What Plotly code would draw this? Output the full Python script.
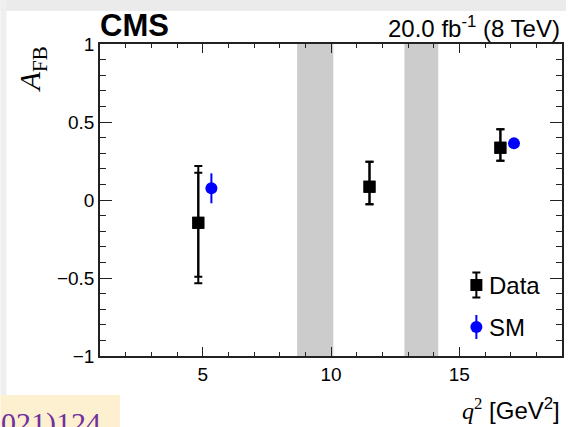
import plotly.graph_objects as go

# ---- data ----
data_x = [4.83, 11.5, 16.6]
data_y = [-0.146, 0.085, 0.335]
data_tot_up = [0.364, 0.16, 0.118]
data_tot_dn = [0.388, 0.113, 0.083]
data_stat_up = [0.321, 0.16, 0.118]
data_stat_dn = [0.346, 0.113, 0.083]

sm_x = [5.34, 17.13]
sm_y = [0.075, 0.363]
sm_err = [0.096, 0.0]

veto_lo = [8.68, 12.86]
veto_hi = [10.09, 14.18]

x_range = [1, 19]
y_range = [-1, 1]

W, H = 568, 427
ML, MR, MT, MB = 100, 4, 44, 71
PW, PH = W - ML - MR, H - MT - MB


def px_x(px):
    return (px - ML) / PW


def px_y(py):
    return (H - MB - py) / PH


fig = go.Figure()

# Data: total uncertainty
fig.add_trace(go.Scatter(
    x=data_x, y=data_y, mode="markers",
    marker=dict(symbol="square", size=12, color="black"),
    error_y=dict(type="data", symmetric=False, array=data_tot_up, arrayminus=data_tot_dn,
                 color="black", thickness=2, width=4),
    showlegend=False, hoverinfo="skip"))
# Data: stat uncertainty
fig.add_trace(go.Scatter(
    x=data_x, y=data_y, mode="markers",
    marker=dict(symbol="square", size=12, color="black"),
    error_y=dict(type="data", symmetric=False, array=data_stat_up, arrayminus=data_stat_dn,
                 color="black", thickness=2, width=4),
    showlegend=False, hoverinfo="skip"))
# SM
fig.add_trace(go.Scatter(
    x=sm_x, y=sm_y, mode="markers",
    marker=dict(symbol="circle", size=12, color="#0000ff"),
    error_y=dict(type="data", array=sm_err, color="#0000ff", thickness=2, width=0),
    showlegend=False, hoverinfo="skip"))

# Legend glyphs on an overlay unit axis
fig.add_trace(go.Scatter(
    x=[px_x(478)], y=[px_y(285)], mode="markers", xaxis="x2", yaxis="y2",
    marker=dict(symbol="square", size=12, color="black"),
    error_y=dict(type="data", array=[12.5 / PH], color="black", thickness=2, width=4),
    showlegend=False, hoverinfo="skip"))
fig.add_trace(go.Scatter(
    x=[px_x(478)], y=[px_y(327)], mode="markers", xaxis="x2", yaxis="y2",
    marker=dict(symbol="circle", size=12, color="#0000ff"),
    error_y=dict(type="data", array=[12 / PH], color="#0000ff", thickness=2, width=0),
    showlegend=False, hoverinfo="skip"))

shapes = []
for lo, hi in zip(veto_lo, veto_hi):
    shapes.append(dict(type="rect", xref="x", yref="y", x0=lo, x1=hi, y0=y_range[0], y1=y_range[1],
                       fillcolor="#cccccc", line=dict(width=0), layer="below"))
# page framing (top and left light gray bands)
shapes.append(dict(type="rect", xref="paper", yref="paper", x0=px_x(0), x1=px_x(W),
                   y0=px_y(11), y1=px_y(0), fillcolor="#ebebeb", line=dict(width=0), layer="below"))
shapes.append(dict(type="rect", xref="paper", yref="paper", x0=px_x(0), x1=px_x(6),
                   y0=px_y(395), y1=px_y(0), fillcolor="#efefef", line=dict(width=0), layer="below"))
# bottom-left citation box
shapes.append(dict(type="rect", xref="paper", yref="paper", x0=px_x(0), x1=px_x(120),
                   y0=px_y(H), y1=px_y(395), fillcolor="#fdf0d0", line=dict(width=0), layer="below"))

annotations = [
    dict(text="<b>CMS</b>", xref="paper", yref="paper", x=px_x(98), y=px_y(45),
         xanchor="left", yanchor="bottom", showarrow=False,
         font=dict(family="Liberation Sans", size=31, color="black")),
    dict(text="20.0 fb<sup>-1</sup> (8 TeV)", xref="paper", yref="paper", x=px_x(564), y=px_y(44),
         xanchor="right", yanchor="bottom", showarrow=False,
         font=dict(family="Liberation Sans", size=24, color="black")),
    dict(text="<i>A</i><sub>FB</sub>", xref="paper", yref="paper", x=px_x(32), y=px_y(44),
         xanchor="center", yanchor="top", textangle=-90, showarrow=False,
         font=dict(family="Liberation Serif", size=30, color="black")),
    dict(text="<span style='font-family:Liberation Serif'><i>q</i><sup>2</sup></span> [GeV<sup>2</sup>]",
         xref="paper", yref="paper", x=px_x(564), y=px_y(426),
         xanchor="right", yanchor="bottom", showarrow=False,
         font=dict(family="Liberation Sans", size=24, color="black")),
    dict(text="Data", xref="paper", yref="paper", x=px_x(489), y=px_y(285),
         xanchor="left", yanchor="middle", showarrow=False,
         font=dict(family="Liberation Sans", size=24, color="black")),
    dict(text="SM", xref="paper", yref="paper", x=px_x(489), y=px_y(327),
         xanchor="left", yanchor="middle", showarrow=False,
         font=dict(family="Liberation Sans", size=24, color="black")),
    dict(text="(2021)124", xref="paper", yref="paper", x=px_x(103), y=px_y(404),
         xanchor="right", yanchor="top", showarrow=False,
         font=dict(family="Liberation Serif", size=30, color="#7030a0")),
]

fig.update_layout(
    width=W, height=H,
    margin=dict(l=ML, r=MR, t=MT, b=MB),
    paper_bgcolor="white", plot_bgcolor="white",
    showlegend=False,
    shapes=shapes, annotations=annotations,
    xaxis=dict(range=x_range, showgrid=False, zeroline=False, showline=True, linecolor="#222",
               linewidth=1.5, mirror="ticks", ticks="inside", ticklen=9, tickwidth=1.2,
               tickcolor="#222", dtick=5, tick0=0,
               minor=dict(ticks="inside", ticklen=4.5, dtick=1, tickcolor="#222", tickwidth=1.2),
               tickfont=dict(family="Liberation Sans", size=19, color="black"),
               ticklabelstandoff=0),
    yaxis=dict(range=y_range, showgrid=False, zeroline=False, showline=True, linecolor="#222",
               linewidth=1.5, mirror="ticks", ticks="inside", ticklen=12, tickwidth=1.2,
               tickcolor="#222", dtick=0.5, tick0=0,
               minor=dict(ticks="inside", ticklen=6, dtick=0.1, tickcolor="#222", tickwidth=1.2),
               tickfont=dict(family="Liberation Sans", size=19, color="black")),
    xaxis2=dict(range=[0, 1], overlaying="x", visible=False, domain=[0, 1]),
    yaxis2=dict(range=[0, 1], overlaying="y", visible=False, domain=[0, 1]),
)

fig.write_html("out.html")
